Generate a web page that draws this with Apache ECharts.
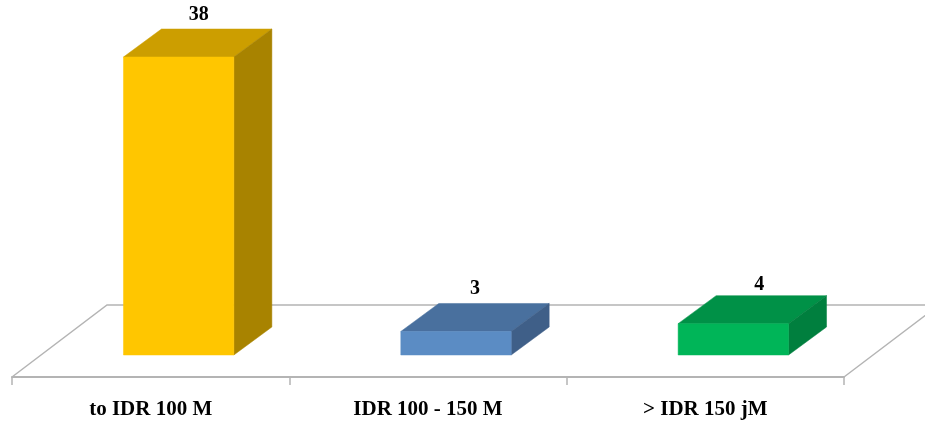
<!DOCTYPE html>
<html>
<head>
<meta charset="utf-8">
<style>html,body{margin:0;padding:0;background:#fff}#chart{width:925px;height:423px}</style>
<script src="https://cdn.jsdelivr.net/npm/echarts@6/dist/echarts.min.js"></script>
</head>
<body>
<div id="chart"></div>
<script>
// Counts per price band
const categories = ['to IDR 100 M', 'IDR 100 - 150 M', '> IDR 150 jM'];
const counts = [38, 3, 4];

// Front, top and side shades of each box
const frontColors = ['#FFC600', '#5B8CC4', '#00B558'];
const topColors = ['#CC9E00', '#49709E', '#009147'];
const sideColors = ['#A88300', '#3F5F88', '#007F3E'];

// Small per-box shifts of the value labels: [dx, dy]
const labelNudges = [[1, 1], [0, 0], [7, 4]];

// Oblique projection used for the floor and the boxes
const depthX = 38, depthY = 28;
const barRatio = 0.398;
const frontShiftX = 28;
const floorFrontDrop = 22, floorBackRise = 50, floorDepthX = 95;
const lineColor = '#B4B4B4';
const font = '"Liberation Serif", serif';

function poly(points, fill) {
  return { type: 'polygon', shape: { points }, style: { fill, stroke: fill, lineWidth: 0.5 } };
}

function renderBox(params, api) {
  const i = api.value(0);
  const base = api.coord([i, 0]);
  const top = api.coord([i, api.value(1)]);
  const w = api.size([1, 0])[0] * barRatio;
  const l = base[0] + frontShiftX - w / 2, r = l + w;
  const b = base[1], t = top[1];
  const nudge = labelNudges[i];
  return {
    type: 'group',
    children: [
      poly([[l, t], [r, t], [r + depthX, t - depthY], [l + depthX, t - depthY]], topColors[i]),
      poly([[r, t], [r + depthX, t - depthY], [r + depthX, b - depthY], [r, b]], sideColors[i]),
      poly([[l, t], [r, t], [r, b], [l, b]], frontColors[i]),
      {
        type: 'text',
        style: {
          text: String(api.value(1)),
          x: (l + r) / 2 + depthX / 2 + nudge[0],
          y: t - depthY - 15 + nudge[1],
          align: 'center',
          verticalAlign: 'middle',
          font: 'bold 20px ' + font,
          fill: '#000'
        }
      }
    ]
  };
}

// Side edges and back edge of the floor; the front edge is the category axis
function renderFloor(params) {
  const cs = params.coordSys;
  const front = cs.y + cs.height + floorFrontDrop;
  const back = cs.y + cs.height - floorBackRise;
  const left = cs.x, right = cs.x + cs.width;
  return {
    type: 'polyline',
    shape: {
      points: [[left, front], [left + floorDepthX, back], [right + floorDepthX, back], [right, front]]
    },
    style: { fill: 'none', stroke: lineColor, lineWidth: 1.5 }
  };
}

const chart = echarts.init(document.getElementById('chart'), null, { renderer: 'canvas' });
chart.setOption({
  animation: false,
  backgroundColor: '#fff',
  grid: { left: 12, width: 832, top: 57, height: 298 },
  xAxis: {
    type: 'category',
    data: categories,
    offset: 22,
    axisLine: { onZero: false, lineStyle: { color: lineColor, width: 2 } },
    axisTick: { show: true, length: 8, lineStyle: { color: lineColor, width: 1.5 } },
    axisLabel: { color: '#000', fontFamily: font, fontWeight: 'bold', fontSize: 21, margin: 22 }
  },
  yAxis: { type: 'value', min: 0, max: 38, show: false },
  series: [
    { type: 'custom', data: [0], renderItem: renderFloor, silent: true, z: 1, encode: { x: 0 } },
    {
      type: 'custom',
      data: counts.map((v, i) => [i, v]),
      renderItem: renderBox,
      encode: { x: 0, y: 1 },
      z: 2
    }
  ]
});
</script>
</body>
</html>
